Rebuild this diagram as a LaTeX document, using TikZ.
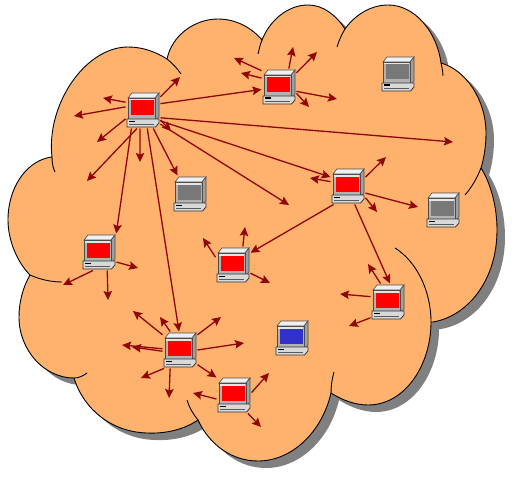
\documentclass[tikz,border=0pt]{standalone}
\usepackage{tikz}
\usetikzlibrary{arrows.meta}
\definecolor{cloudfill}{RGB}{255,178,110}
\definecolor{cloudshade}{RGB}{128,128,128}
\definecolor{linkred}{RGB}{145,5,5}
\definecolor{pcred}{RGB}{255,0,0}
\definecolor{pcgray}{RGB}{120,120,120}
\definecolor{pcblue}{RGB}{50,50,200}
\tikzstyle{link} = [line width=1.3pt,->,>={Stealth[length=9pt,width=8.5pt,inset=1.5pt]},color=linkred]
\tikzstyle{rim} = [line width=0.9pt,color=black]
\tikzset{pc/.style={rectangle,minimum width=33pt,minimum height=35pt,inner sep=0pt,outer sep=1pt,
  path picture={
    \begin{scope}[shift={(path picture bounding box.center)},line width=0.6pt]
    \draw[fill=gray!12,draw=gray!60!black] (-15,-12) -- (-11,-17) -- (16,-17) -- (12,-12) -- cycle;
    \draw[fill=gray!75,draw=gray!60!black] (12,-12) -- (16,-17) -- (16,7) -- (12,11) -- cycle;
    \draw[fill=gray!60,draw=gray!60!black] (-15,-12) rectangle (12,10);
    \fill[gray!20] (-14,-11) rectangle (11,-9.5);
    \fill[#1] (-12.5,-9.5) rectangle (10.5,5.5);
    \draw[fill=gray!30,line width=0.8pt,draw=black!80] (-16,9) -- (16,9) -- (16,13) -- (12.5,17) -- (-16,17) -- cycle;
    \fill[black] (-14,10.5) rectangle (-8,12);
    \draw[gray!70!black] (-14,14) -- (11,14);
    \end{scope}
  }}}
% one arrow per entry: anchor angle / tip x / tip y
\newcommand{\fan}[2]{\foreach \ang/\tx/\ty in {#2} {
  \coordinate (tip) at (\tx,\ty);
  \draw[link] (#1.\ang) -- (tip);}}
% outline of the cloud, lobe after lobe
\newcommand{\cloudpath}{
  (52,157) .. controls (46,105) and (85,47) .. (128,47) .. controls (143,47) and (156,52) .. (167,59)
  .. controls (172,35) and (195,19) .. (218,19) .. controls (236,19) and (252,28) .. (262,40)
  .. controls (270,20) and (288,5) .. (308,5) .. controls (323,5) and (336,15) .. (345,29)
  .. controls (354,16) and (370,5) .. (388,5) .. controls (415,5) and (437,32) .. (441,63)
  .. controls (466,70) and (486,100) .. (486,133) .. controls (486,146) and (484,158) .. (481,168)
  .. controls (490,182) and (497,205) .. (497,230) .. controls (497,280) and (468,316) .. (433,322)
  -- (431,322) .. controls (431,365) and (405,405) .. (368,405) .. controls (355,405) and (342,400) .. (331,393)
  .. controls (322,432) and (292,461) .. (258,461) .. controls (233,461) and (210,446) .. (198,420)
  .. controls (185,429) and (166,434) .. (147,433) .. controls (112,432) and (84,410) .. (74,378)
  .. controls (44,378) and (19,350) .. (19,317) .. controls (19,302) and (23,287) .. (30,275)
  .. controls (17,262) and (8,240) .. (8,220) .. controls (8,187) and (27,160) .. (52,157)
  -- cycle}
\begin{document}
\begin{tikzpicture}[x=1pt,y=-1pt]
\useasboundingbox (0,0) rectangle (516,500);
\fill[white] (0,0) rectangle (516,500);
% Cloud with its shadow
\fill[cloudshade,shift={(8,7)}] \cloudpath;
\draw[rim,fill=cloudfill] \cloudpath;
\draw[rim] (167,59) .. controls (172,63) and (177,68) .. (181,74);
\draw[rim] (52,157) .. controls (52,163) and (53,168) .. (55,172);
\draw[rim] (262,40) .. controls (260,45) and (259,50) .. (258,54);
\draw[rim] (345,29) .. controls (342,34) and (339,40) .. (337,47);
\draw[rim] (441,63) .. controls (442,67) and (443,72) .. (443,76);
\draw[rim] (481,168) .. controls (477,178) and (472,187) .. (465,195);
\draw[rim] (395,248) .. controls (416,261) and (431,290) .. (431,322);
\draw[rim] (331,393) .. controls (331,386) and (332,379) .. (334,372);
\draw[rim] (198,420) .. controls (193,414) and (189,407) .. (187,400);
\draw[rim] (74,378) .. controls (79,378) and (83,376) .. (87,373);
\draw[rim] (30,275) .. controls (39,279) and (50,282) .. (62,282);

% Computers
\node[pc=pcred] (hub) at (143,110) {};
\node[pc=pcred] (toppc) at (279,87) {};
\node[pc=pcgray] (cornerpc) at (398,74) {};
\node[pc=pcgray] (midpc) at (190,194) {};
\node[pc=pcred] (rightpc) at (348,186) {};
\node[pc=pcgray] (farpc) at (443,210) {};
\node[pc=pcred] (centerpc) at (233,265) {};
\node[pc=pcred] (leftpc) at (99,252) {};
\node[pc=pcred] (lowerpc) at (388,302) {};
\node[pc=pcblue] (bluepc) at (292,338) {};
\node[pc=pcred] (bottompc) at (180,350) {};
\node[pc=pcred] (cornerred) at (234,395) {};

% Arrows between computers
\draw[link] (hub.20) -- (toppc.188);
\draw[link] (hub.238) -- (leftpc.47);
\draw[link] (hub.283) -- (bottompc.93);
\draw[link] (hub.299) -- (midpc.124);
\draw[link] (hub.328) -- (rightpc.153);
\draw[link] (rightpc.290) -- (lowerpc.84);
\draw[link] (rightpc.232) -- (centerpc.35);
\draw[link] (bottompc.320) -- (cornerred.135);

% Arrows with a free end
\fan{hub}{37/180/77,156/103/98,170/74/116,207/97/142,252/87/181,261/140/162,336/453/142,321/289/205,330/171/131}
\fan{toppc}{137/234/58,153/241/73,62/293/47,39/317/52,346/337/99,340/309/107}
\fan{rightpc}{27/386/157,166/310/178,338/418/207,326/377/212}
\fan{lowerpc}{112/368/264,163/340/294,222/349/326}
\fan{centerpc}{156/203/238,62/245/227,335/270/283}
\fan{leftpc}{330/138/268,252/63/285,294/108/300}
\fan{bottompc}{139/133/311,118/160/317,41/221/317,0/244/343,176/122/345,184/132/347,229/141/378,242/169/398}
\fan{cornerred}{193/193/393,8/269/373,307/261/427}
\end{tikzpicture}
\end{document}
